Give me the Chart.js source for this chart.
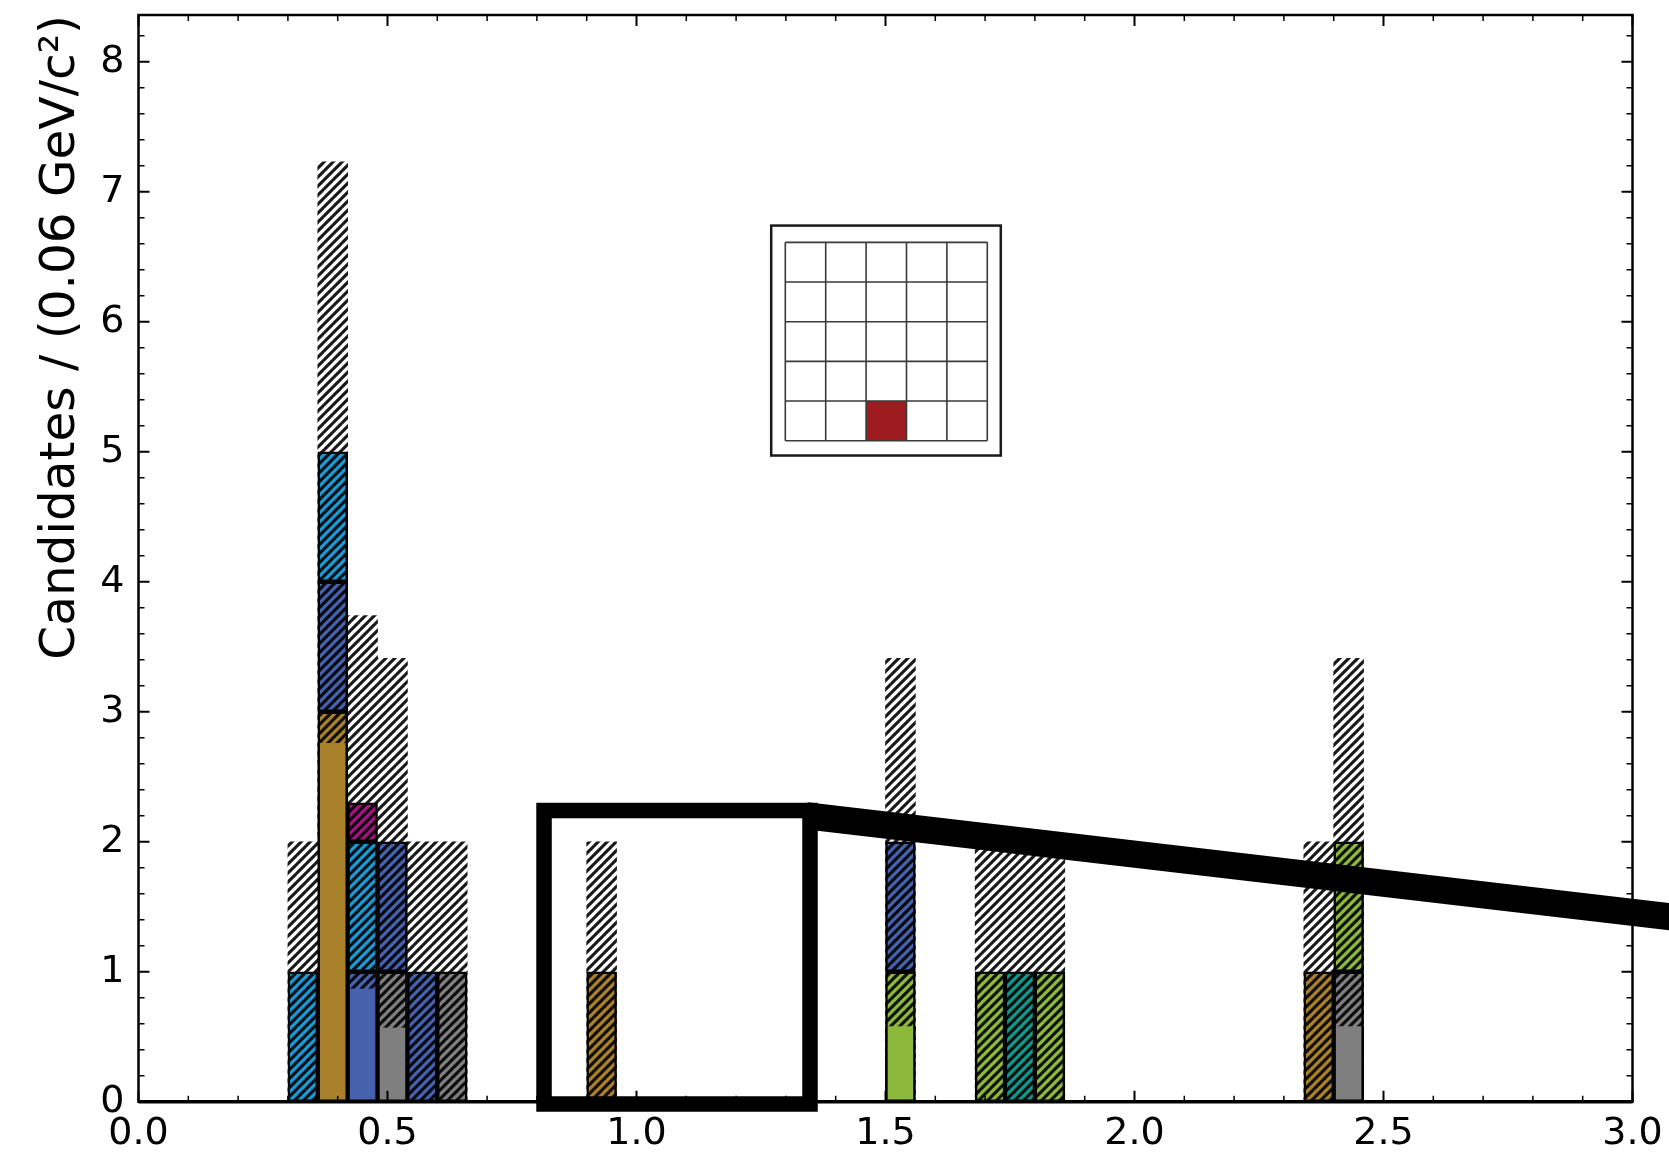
<!DOCTYPE html>
<html>
<head>
<meta charset="utf-8">
<title>Candidates per bin</title>
<script src="https://cdn.jsdelivr.net/npm/chart.js@4.4.1/dist/chart.umd.min.js"></script>
<style>
  html, body { margin: 0; padding: 0; background: #fff; }
  canvas { display: block; }
</style>
</head>
<body>
<canvas id="massChart" width="1669" height="1156"></canvas>
<script>
// bin centres in GeV/c^2 (bins are 0.06 wide)
const binCenters = [0.33, 0.39, 0.45, 0.51, 0.57, 0.63, 0.93, 1.53, 1.71, 1.77, 1.83, 2.37, 2.43];

// hatched band: total plus its uncertainty
const totalBand = [2.0, 7.23, 3.74, 3.41, 2.0, 2.0, 2.0, 3.41, 2.0, 2.0, 2.0, 2.0, 3.41];

// candidates per module, stacked bottom to top in this order
const brownCounts   = [0, 3, 0,   0, 0, 0, 1, 0, 0, 0, 0, 1, 0];
const grayCounts    = [0, 0, 0,   1, 0, 1, 0, 0, 0, 0, 0, 0, 1];
const greenCounts   = [0, 0, 0,   0, 0, 0, 0, 1, 1, 0, 1, 0, 1];
const blueCounts    = [0, 1, 1,   1, 1, 0, 0, 1, 0, 0, 0, 0, 0];
const cyanCounts    = [1, 1, 1,   0, 0, 0, 0, 0, 0, 0, 0, 0, 0];
const magentaCounts = [0, 0, 0.3, 0, 0, 0, 0, 0, 0, 0, 0, 0, 0];
const tealCounts    = [0, 0, 0,   0, 0, 0, 0, 0, 0, 1, 0, 0, 0];

// unhatched part of the lowest block in each bin
const solidPart = [0, 2.76, 0.87, 0.57, 0, 0, 0, 0.58, 0, 0, 0, 0, 0.58];

const xTickLabels = ["0.0", "0.5", "1.0", "1.5", "2.0", "2.5", "3.0"];
const yTickLabels = ["0", "1", "2", "3", "4", "5", "6", "7", "8"];
const yTitle = "Candidates / (0.06 GeV/c\u00B2)";

const FONT = "DejaVu Sans";

const canvas = document.getElementById("massChart");
const ctx = canvas.getContext("2d");

// diagonal "/" hatch over a flat colour
function hatch(bg) {
  const w = 9, h = 9;
  const tile = document.createElement("canvas");
  tile.width = w;
  tile.height = h;
  const c = tile.getContext("2d");
  c.fillStyle = bg;
  c.fillRect(0, 0, w, h);
  c.strokeStyle = "rgba(0,0,0,0.9)";
  c.lineWidth = 3.1;
  for (let k = -1; k <= 1; k++) {
    c.beginPath();
    c.moveTo(-1, h + k * h + h / w);
    c.lineTo(w + 1, k * h - h / w);
    c.stroke();
  }
  return ctx.createPattern(tile, "repeat");
}

const modules = [
  { label: "brown", counts: brownCounts, color: "#a8812a" },
  { label: "gray", counts: grayCounts, color: "#7f7f7f" },
  { label: "green", counts: greenCounts, color: "#8cb83c" },
  { label: "blue", counts: blueCounts, color: "#4661ad" },
  { label: "cyan", counts: cyanCounts, color: "#1c98d3" },
  { label: "magenta", counts: magentaCounts, color: "#a2167f" },
  { label: "teal", counts: tealCounts, color: "#10998a" },
];

const points = (arr) =>
  binCenters.map((x, i) => ({ x, y: arr[i] })).filter((p) => p.y > 0);

const datasets = [];

// solid fill drawn over the bottom block, coloured like that block
modules.forEach((m) => {
  const own = binCenters.map((x, i) => {
    const bottom = modules.find((mm) => mm.counts[i] > 0);
    return bottom === m ? solidPart[i] : 0;
  });
  datasets.push({
    label: m.label + " (solid)",
    data: points(own),
    stack: "solid",
    order: 0,
    grouped: false,
    backgroundColor: m.color,
    borderColor: "#000",
    borderWidth: { top: 0, left: 2.5, right: 2.5, bottom: 2.5 },
    borderSkipped: false,
  });
});

modules.forEach((m) => {
  datasets.push({
    label: m.label,
    data: points(m.counts),
    stack: "main",
    order: 1,
    grouped: false,
    backgroundColor: hatch(m.color),
    borderColor: "#000",
    borderWidth: 2.5,
    borderSkipped: false,
  });
});

datasets.push({
  label: "band",
  data: points(totalBand),
  stack: "band",
  order: 2,
  grouped: false,
  backgroundColor: hatch("#ffffff"),
  borderWidth: 0,
});

// frame with inward major/minor ticks on all four sides
const frameTicks = {
  id: "frameTicks",
  afterDatasetsDraw(chart) {
    const { ctx, chartArea: a, scales } = chart;
    const x = scales.x, y = scales.y;
    ctx.save();
    ctx.strokeStyle = "#000";
    for (let i = 0; i <= 30; i++) {
      const px = x.getPixelForValue(i / 10);
      const major = i % 5 === 0;
      const len = major ? 11 : 6;
      ctx.lineWidth = major ? 2 : 1.5;
      ctx.beginPath();
      ctx.moveTo(px, a.bottom);
      ctx.lineTo(px, a.bottom - len);
      ctx.moveTo(px, a.top);
      ctx.lineTo(px, a.top + len);
      ctx.stroke();
    }
    for (let i = 0; i <= 41; i++) {
      const v = i / 5;
      if (v > y.max) break;
      const py = y.getPixelForValue(v);
      const major = i % 5 === 0;
      const len = major ? 11 : 6;
      ctx.lineWidth = major ? 2 : 1.5;
      ctx.beginPath();
      ctx.moveTo(a.left, py);
      ctx.lineTo(a.left + len, py);
      ctx.moveTo(a.right, py);
      ctx.lineTo(a.right - len, py);
      ctx.stroke();
    }
    ctx.lineWidth = 2.5;
    ctx.strokeRect(a.left, a.top, a.right - a.left, a.bottom - a.top);
    ctx.lineWidth = 3.5;
    ctx.beginPath();
    ctx.moveTo(a.left, a.bottom);
    ctx.lineTo(a.right, a.bottom);
    ctx.stroke();
    ctx.restore();
  },
};

// module map inset and the zoom marker, placed in data coordinates
const inset = { x0: 1.2705, x1: 1.7315, y0: 6.74, y1: 4.971, gx0: 1.2988, gx1: 1.7044, gy0: 6.611, gy1: 5.085 };
const insetSize = 5;
const insetHit = { col: 2, row: 4 };
const zoomBox = { x0: 0.8143, x1: 1.3484, y0: -0.0177, y1: 2.24 };
const pointer = { x0: 1.3404, y0: 2.2, x1: 3.1355, y1: 1.396 };

const overlays = {
  id: "overlays",
  afterDraw(chart) {
    const { ctx, scales } = chart;
    const X = (v) => scales.x.getPixelForValue(v);
    const Y = (v) => scales.y.getPixelForValue(v);
    ctx.save();

    // inset: 5x5 module grid with one hit cell
    ctx.fillStyle = "#fff";
    ctx.fillRect(X(inset.x0), Y(inset.y0), X(inset.x1) - X(inset.x0), Y(inset.y1) - Y(inset.y0));
    ctx.strokeStyle = "#1a1a1a";
    ctx.lineWidth = 2.5;
    ctx.strokeRect(X(inset.x0), Y(inset.y0), X(inset.x1) - X(inset.x0), Y(inset.y1) - Y(inset.y0));
    const gx0 = X(inset.gx0), gx1 = X(inset.gx1), gy0 = Y(inset.gy0), gy1 = Y(inset.gy1);
    const cw = (gx1 - gx0) / insetSize, ch = (gy1 - gy0) / insetSize;
    ctx.fillStyle = "#9e1c20";
    ctx.fillRect(gx0 + insetHit.col * cw, gy0 + insetHit.row * ch, cw, ch);
    ctx.strokeStyle = "#3a3a3a";
    ctx.lineWidth = 1.6;
    ctx.beginPath();
    for (let i = 0; i <= insetSize; i++) {
      ctx.moveTo(gx0 + i * cw, gy0);
      ctx.lineTo(gx0 + i * cw, gy1);
      ctx.moveTo(gx0, gy0 + i * ch);
      ctx.lineTo(gx1, gy0 + i * ch);
    }
    ctx.stroke();

    // zoom marker box and its pointer line
    ctx.strokeStyle = "#000";
    ctx.lineJoin = "miter";
    ctx.lineWidth = 15.5;
    ctx.strokeRect(X(zoomBox.x0), Y(zoomBox.y1), X(zoomBox.x1) - X(zoomBox.x0), Y(zoomBox.y0) - Y(zoomBox.y1));
    ctx.lineWidth = 27;
    ctx.lineCap = "butt";
    ctx.beginPath();
    ctx.moveTo(X(pointer.x0), Y(pointer.y0));
    ctx.lineTo(X(pointer.x1), Y(pointer.y1));
    ctx.stroke();
    ctx.restore();
  },
};

new Chart(ctx, {
  type: "bar",
  data: { datasets },
  plugins: [frameTicks, overlays],
  options: {
    responsive: false,
    animation: false,
    layout: { padding: { top: 15, right: 36.5, left: 0, bottom: 0 } },
    plugins: { legend: { display: false }, tooltip: { enabled: false } },
    datasets: { bar: { barPercentage: 1, categoryPercentage: 1 } },
    scales: {
      x: {
        type: "linear",
        min: 0,
        max: 3,
        offset: false,
        grid: { display: false, drawTicks: false },
        border: { display: false },
        ticks: {
          stepSize: 0.5,
          autoSkip: false,
          maxRotation: 0,
          padding: 10,
          color: "#000",
          font: { family: FONT, size: 38 },
          callback: (v, i) => xTickLabels[i],
        },
        afterFit: (s) => {
          s.height = 54.3;
          s.paddingLeft = 0;
          s.paddingRight = 0;
        },
      },
      y: {
        stacked: true,
        min: 0,
        max: 8.36,
        grid: { display: false, drawTicks: false },
        border: { display: false },
        afterBuildTicks: (s) => {
          s.ticks = s.ticks.filter((t) => Math.abs(t.value - Math.round(t.value)) < 1e-6);
        },
        ticks: {
          stepSize: 1,
          padding: 14,
          color: "#000",
          font: { family: FONT, size: 38 },
          callback: (v, i) => yTickLabels[i],
        },
        title: {
          display: true,
          text: yTitle,
          align: "end",
          color: "#000",
          font: { family: FONT, size: 48.5 },
          padding: { top: 32, bottom: 0 },
        },
        afterFit: (s) => {
          s.width = 138.5;
          s.paddingTop = 0;
          s.paddingBottom = 0;
        },
      },
    },
  },
});
</script>
</body>
</html>
